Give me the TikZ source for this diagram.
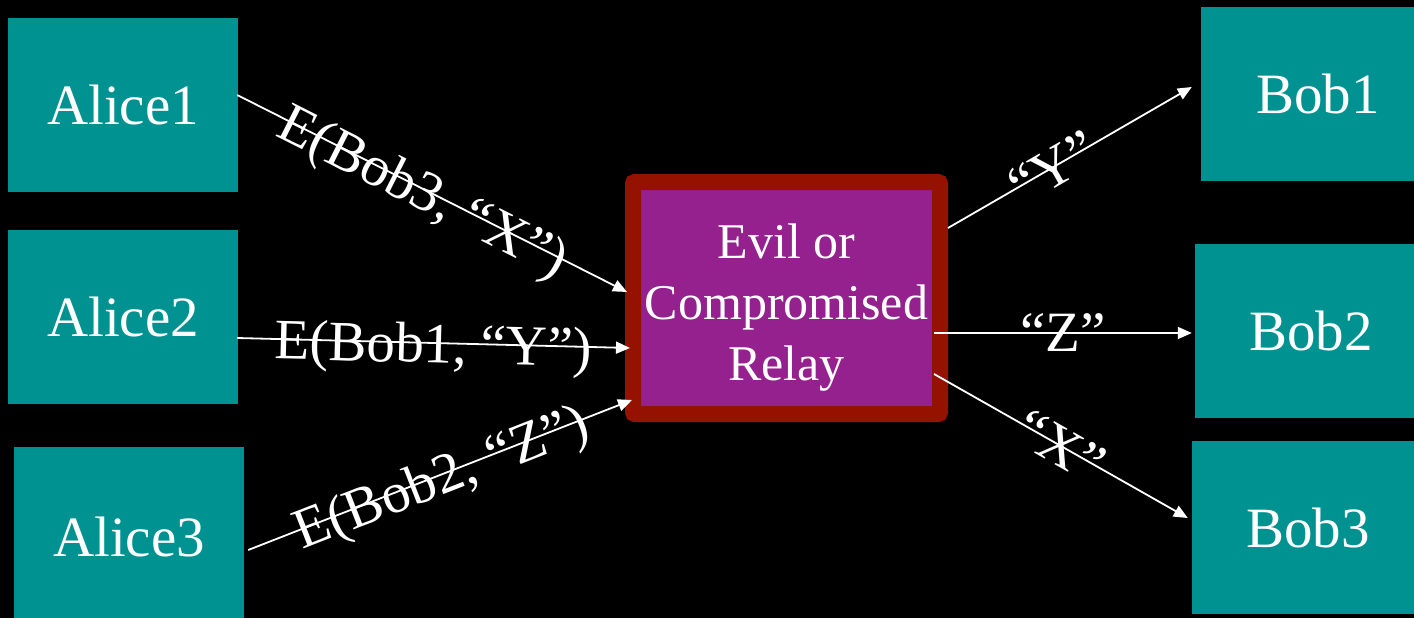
\documentclass[tikz,border=0pt]{standalone}
\usepackage{fontspec}
\setmainfont{Liberation Serif}
\usetikzlibrary{arrows.meta,calc}

\definecolor{boxteal}{RGB}{0,145,145}
\definecolor{relayred}{RGB}{150,18,0}
\definecolor{relaypurple}{RGB}{148,33,142}

\begin{document}
\begin{tikzpicture}[x=1pt,y=-1pt]

	% Node styles
	\tikzset{
		party/.style={
			fill=boxteal,
			text=white,
			inner sep=0pt,
			font=\fontsize{57}{68}\selectfont
		},
		relay/.style={
			draw=relayred,
			fill=relaypurple,
			line width=16pt,
			rounded corners=2pt,
			minimum width=307pt,
			minimum height=232pt
		},
		msg/.style={
			white,
			line width=1.8pt,
			-{Triangle[length=14pt,width=12pt]}
		},
		msglabel/.style={
			text=white,
			sloped,
			inner sep=0pt,
			text depth=0pt,
			font=\fontsize{57}{68}\selectfont
		}
	}

	% Background
	\fill[black] (0,0) rectangle (1414,618);
	\useasboundingbox (0,0) rectangle (1414,618);

	% Nodes
	\node[party, minimum width=230pt, minimum height=174pt] (A1) at (123,105) {Alice1};
	\node[party, minimum width=230pt, minimum height=174pt] (A2) at (123,317) {Alice2};
	\node[party, minimum width=230pt, minimum height=180pt] (A3) at (129,537) {Alice3};
	\node[party, minimum width=234pt, minimum height=174pt] (B1) at (1318,94) {Bob1};
	\node[party, minimum width=232pt, minimum height=174pt] (B2) at (1311,331) {Bob2};
	\node[party, minimum width=232pt, minimum height=173pt] (B3) at (1308,527.5) {Bob3};
	\node[relay] (R) at (786.5,298) {};
	\node[text=white, align=center, font=\fontsize{50}{61}\selectfont] (Rt) at (786.5,308) {Evil or\\Compromised\\Relay};

	% Messages
	\draw[msg] ($(A1.east)+(-1,-10)$) -- node[msglabel, pos=0.48] (L1) {E(Bob3, “X”)} ($(R.west)+(2,-6)$);
	\draw[msg] ($(A2.east)+(-1,21)$) -- node[msglabel] (L2) {E(Bob1, “Y”)} ($(R.west)+(5,50)$);
	\draw[msg] ($(A3.east)+(4,13)$) -- node[msglabel] (L3) {E(Bob2, “Z”)} ($(R.west)+(7,102)$);
	\draw[msg] ($(R.east)+(0,-70)$) -- node[msglabel, pos=0.43] (L4) {“Y”} ($(B1.west)+(-9,-7)$);
	\draw[msg] ($(R.east)+(-14,35)$) -- node[msglabel] (L5) {“Z”} ($(B2.west)+(-3,2)$);
	\draw[msg] ($(R.east)+(-14,76)$) -- node[msglabel] (L6) {“X”} ($(B3.west)+(-4,-9.5)$);

\end{tikzpicture}
\end{document}
